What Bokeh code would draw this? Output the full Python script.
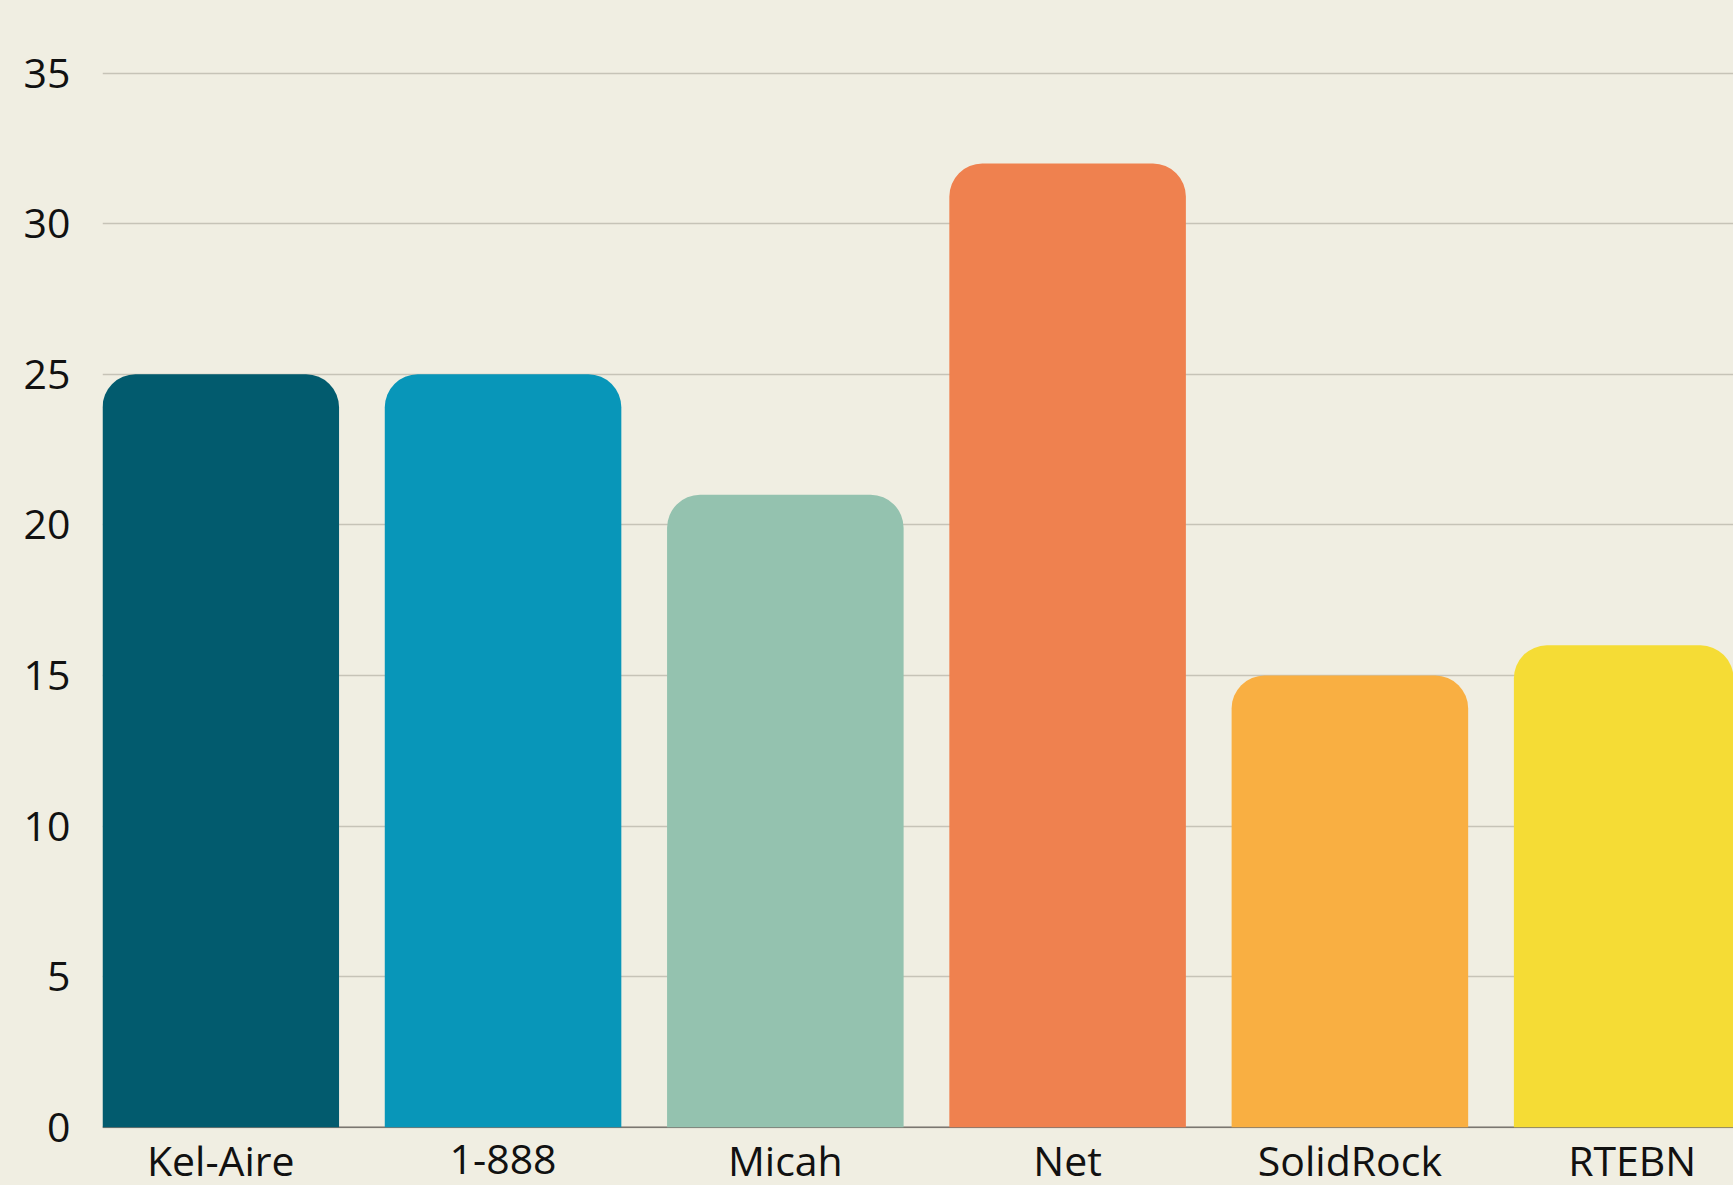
from bokeh.plotting import figure
from bokeh.models import ColumnDataSource, Range1d, FixedTicker, Span
from bokeh.core.properties import value
from bokeh.embed import file_html
from bokeh.resources import INLINE

categories = ["Kel-Aire", "1-888", "Micah", "Net", "SolidRock", "RTEBN"]
values = [25, 25, 21, 32, 15, 16]
colors = ["#025B6E", "#0896B9", "#94C2AF", "#EF814F", "#F9AF42", "#F5DC35"]
y_ticks = [0, 5, 10, 15, 20, 25, 30, 35]

BG = "#F0EEE2"
FONT = "Open Sans"
LABEL_Y = -1.08  # category labels sit just below the zero baseline

xs = list(range(len(categories)))
src = ColumnDataSource(dict(x=xs, top=values, color=colors, name=categories,
                            label_y=[LABEL_Y] * len(categories)))

p = figure(width=1733, height=1185, output_backend="svg", toolbar_location=None,
           x_range=Range1d(-0.419, 5.359), y_range=Range1d(-1.936, 37.414),
           min_border_left=102, min_border_right=0, min_border_top=0, min_border_bottom=0)

p.background_fill_color = BG
p.border_fill_color = BG
p.outline_line_color = None

p.add_layout(Span(location=0, dimension="width", line_color="#7A7670", line_width=1.5, level="underlay"))

p.vbar(x="x", top="top", bottom=0, width=0.838, fill_color="color", line_color=None,
       border_radius=(33, 33, 0, 0), source=src)

p.text(x="x", y="label_y", text="name", source=src,
       text_align="center", text_baseline="alphabetic",
       text_font=value(FONT), text_font_size="41px", text_color="#111111")

p.xgrid.grid_line_color = None
p.ygrid.grid_line_color = "#C6C3B7"
p.ygrid.grid_line_width = 1.3
p.yaxis.ticker = FixedTicker(ticks=y_ticks)
p.xaxis.visible = False

p.yaxis.axis_line_color = None
p.yaxis.major_tick_line_color = None
p.yaxis.minor_tick_line_color = None
p.yaxis.major_tick_out = 0
p.yaxis.major_tick_in = 0
p.yaxis.major_label_text_font = FONT
p.yaxis.major_label_text_font_size = "41px"
p.yaxis.major_label_text_color = "#111111"
p.yaxis.major_label_standoff = 32

html = file_html(p, INLINE)
html = html.replace("</head>", "<style>html,body{background:%s;}</style></head>" % BG, 1)
open("out.html", "w").write(html)
